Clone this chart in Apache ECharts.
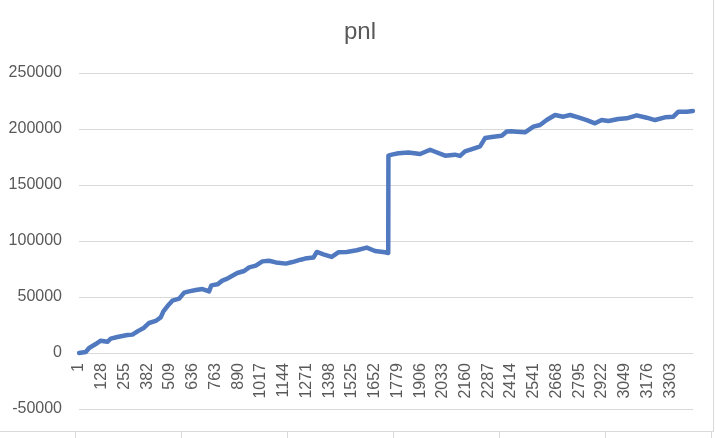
<!DOCTYPE html>
<html>
<head>
<meta charset="utf-8">
<script src="https://cdn.jsdelivr.net/npm/echarts@6/dist/echarts.min.js"></script>
<style>
html,body{margin:0;padding:0;background:#fff;}
#chart{width:716px;height:438px;}
</style>
</head>
<body>
<div id="chart"></div>
<script>
// Number of rows in the sheet (categories 1..N)
var categoryCount = 3430;
var pointIndex = [0,37,56,93,121,158,177,214,270,298,326,363,391,428,456,471,493,521,559,587,614,652,689,726,739,773,800,828,856,884,922,950,987,1024,1061,1099,1155,1192,1238,1262,1309,1328,1365,1411,1448,1495,1551,1607,1653,1709,1727,1728,1747,1784,1840,1905,1961,1989,2045,2100,2128,2156,2212,2240,2268,2315,2361,2389,2414,2445,2491,2538,2575,2612,2659,2705,2743,2789,2836,2882,2919,2957,3012,3059,3115,3171,3217,3273,3320,3348,3395,3429];
var pointValue = [0,900,4500,8000,11000,10000,12800,14300,16000,16400,19300,22600,26800,28600,31800,37200,41700,46700,48500,53900,55000,56200,57100,55000,60400,61300,64600,66400,69000,71400,73200,76500,78000,81800,82400,80900,79800,81200,83300,84300,85200,90200,88100,85800,89900,90200,91700,94100,91100,89900,89300,176200,177100,178300,179100,177700,181500,179700,176200,177100,176000,180000,183000,184500,191900,193100,194000,197800,198000,197600,197000,202100,203600,208000,212500,211000,212500,210400,208000,205100,208000,207100,208900,209500,212200,210100,208000,210400,211000,215500,215500,216100];
var yMin = -50000, yMax = 250000, yStep = 50000;
var titleText = 'pnl';

var categories = [];
for (var i = 1; i <= categoryCount; i++) categories.push(String(i));
var seriesData = pointIndex.map(function (idx, k) { return [idx, pointValue[k]]; });

var chart = echarts.init(document.getElementById('chart'), null, {renderer: 'canvas'});
var font = 'Liberation Sans';
var grey = '#595959';
var lineGrey = '#d9d9d9';
var gridTop = 73, gridBottom = 29, chartH = 438;
var plotH = chartH - gridTop - gridBottom;
// distance from plot bottom (value yMin) up to value 0
var zeroOffset = plotH * (0 - yMin) / (yMax - yMin);

var tickXs = [75, 181, 287, 393, 499, 605, 711];
var graphics = [
  {type: 'line', shape: {x1: 0, y1: 431.5, x2: 713.5, y2: 431.5}, style: {stroke: lineGrey, lineWidth: 1}, silent: true},
  {type: 'line', shape: {x1: 713.5, y1: 0, x2: 713.5, y2: 431.5}, style: {stroke: lineGrey, lineWidth: 1}, silent: true}
];
tickXs.forEach(function (x) {
  graphics.push({type: 'line', shape: {x1: x + 0.5, y1: 431.5, x2: x + 0.5, y2: 438}, style: {stroke: lineGrey, lineWidth: 1}, silent: true});
});

chart.setOption({
  animation: false,
  backgroundColor: '#ffffff',
  title: {
    text: titleText,
    left: 339,
    top: 15,
    textStyle: {fontFamily: font, fontSize: 24, fontWeight: 'normal', color: grey}
  },
  grid: {left: 79, right: 23, top: gridTop, bottom: gridBottom, containLabel: false, outerBoundsMode: 'none'},
  xAxis: {
    type: 'category',
    data: categories,
    boundaryGap: true,
    position: 'bottom',
    offset: -zeroOffset,
    axisLine: {show: true, onZero: false, lineStyle: {color: lineGrey, width: 1}},
    axisTick: {show: false},
    splitLine: {show: false},
    axisLabel: {
      interval: 126,
      rotate: 90,
      margin: 10,
      showMaxLabel: false,
      showMinLabel: true,
      fontFamily: font,
      fontSize: 16,
      color: grey
    }
  },
  yAxis: {
    type: 'value',
    min: yMin,
    max: yMax,
    interval: yStep,
    axisLine: {show: false},
    axisTick: {show: false},
    splitLine: {show: true, lineStyle: {color: lineGrey, width: 1}},
    axisLabel: {margin: 17, fontFamily: font, fontSize: 16, color: grey,
      formatter: function (v) { return String(v); }}
  },
  series: [{
    type: 'line',
    data: seriesData,
    showSymbol: false,
    smooth: false,
    lineStyle: {color: '#5079c0', width: 4.5, join: 'round', cap: 'round'},
    itemStyle: {color: '#5079c0'}
  }],
  graphic: graphics
});
</script>
</body>
</html>
